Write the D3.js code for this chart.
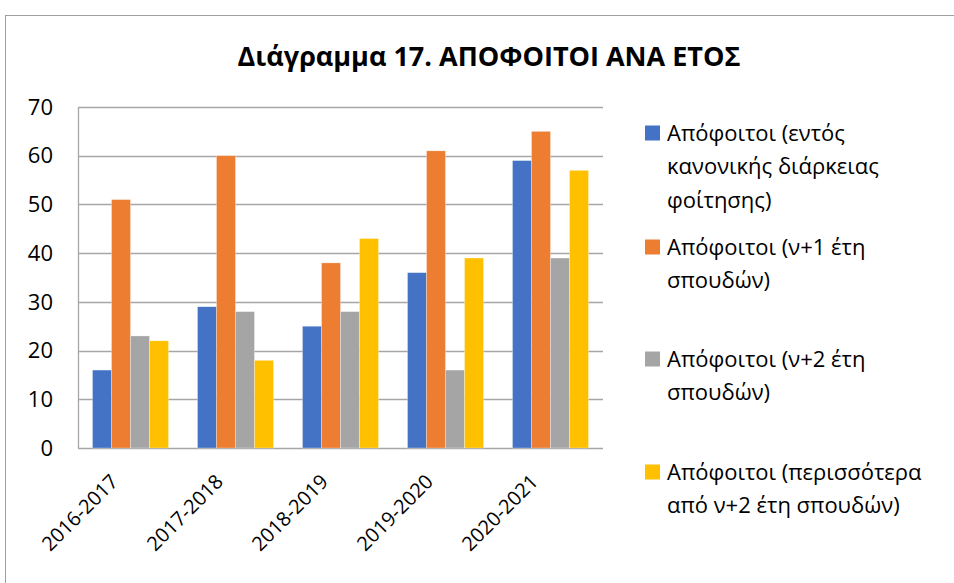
<!DOCTYPE html>
<html>
<head>
<meta charset="utf-8">
<script src="https://cdn.jsdelivr.net/npm/d3@7"></script>
<style>
  body { margin: 0; background: #fff; }
  svg text { font-family: "Open Sans", "Noto Sans", sans-serif; fill: #000; }
</style>
</head>
<body>
<div class="vis"></div>
<script>
(function() {
  'use strict';

  var years = ["2016-2017", "2017-2018", "2018-2019", "2019-2020", "2020-2021"];
  var seriesNames = [
    ["Απόφοιτοι (εντός", "κανονικής διάρκειας", "φοίτησης)"],
    ["Απόφοιτοι (ν+1 έτη", "σπουδών)"],
    ["Απόφοιτοι (ν+2 έτη", "σπουδών)"],
    ["Απόφοιτοι (περισσότερα", "από ν+2 έτη σπουδών)"]
  ];
  var inTime = [16, 29, 25, 36, 59];
  var plus1 = [51, 60, 38, 61, 65];
  var plus2 = [23, 28, 28, 16, 39];
  var more = [22, 18, 43, 39, 57];
  var yTicks = [0, 10, 20, 30, 40, 50, 60, 70];
  var colors = ["#4472C4", "#ED7D31", "#A5A5A5", "#FFC000"];

  var series = [inTime, plus1, plus2, more];

  var width = 954, height = 583;
  var margin = {top: 107, right: 351, bottom: 135, left: 78};

  var svg = d3.select('.vis').append('svg')
      .attr('width', width)
      .attr('height', height);

  // chart frame
  svg.append('rect')
    .attr('x', 5.5).attr('y', 15.5)
    .attr('width', 960).attr('height', 600)
    .attr('fill', 'none')
    .attr('stroke', '#a0a0a0')
    .attr('stroke-width', 1);

  svg.append('text')
    .attr('x', 489).attr('y', 66)
    .attr('text-anchor', 'middle')
    .style('font-size', '27px')
    .style('font-weight', 'bold')
    .text('Διάγραμμα 17. ΑΠΟΦΟΙΤΟΙ ΑΝΑ ΕΤΟΣ');

  var x0 = d3.scaleBand()
    .domain(years)
    .range([margin.left, width - margin.right])
    .paddingInner(0.276)
    .paddingOuter(0.138);

  var x1 = d3.scaleBand()
    .domain(d3.range(series.length))
    .range([0, x0.bandwidth()]);

  var y = d3.scaleLinear()
    .domain([0, 70])
    .range([height - margin.bottom, margin.top]);

  // gridlines
  svg.append('g')
    .selectAll('line')
    .data(yTicks)
    .enter()
    .append('line')
      .attr('x1', margin.left)
      .attr('x2', width - margin.right)
      .attr('y1', function(d) { return Math.round(y(d)) + 0.5; })
      .attr('y2', function(d) { return Math.round(y(d)) + 0.5; })
      .attr('stroke', '#a6a6a6')
      .attr('stroke-width', 1.3);

  svg.append('line')
    .attr('x1', margin.left + 0.5).attr('x2', margin.left + 0.5)
    .attr('y1', y(70)).attr('y2', y(0))
    .attr('stroke', '#a6a6a6')
    .attr('stroke-width', 1.3);

  // y labels
  svg.append('g')
    .selectAll('text')
    .data(yTicks)
    .enter()
    .append('text')
      .attr('x', 53)
      .attr('y', function(d) { return y(d); })
      .attr('dy', '0.35em')
      .attr('text-anchor', 'end')
      .style('font-size', '22px')
      .text(function(d) { return d; });

  // bars
  var groups = svg.append('g')
    .selectAll('g')
    .data(years)
    .enter()
    .append('g')
      .attr('transform', function(d) { return 'translate(' + x0(d) + ',0)'; });

  groups.selectAll('rect')
    .data(function(d, i) {
      return series.map(function(s, j) { return {k: j, v: s[i]}; });
    })
    .enter()
    .append('rect')
      .attr('x', function(d) { return x1(d.k); })
      .attr('width', x1.bandwidth())
      .attr('y', function(d) { return y(d.v); })
      .attr('height', function(d) { return y(0) - y(d.v); })
      .attr('fill', function(d) { return colors[d.k]; })
      .attr('stroke', '#fff')
      .attr('stroke-opacity', 0.5)
      .attr('stroke-width', 0.6);

  // x labels
  svg.append('g')
    .selectAll('text')
    .data(years)
    .enter()
    .append('text')
      .attr('transform', function(d) {
        return 'translate(' + (x0(d) + x0.bandwidth() / 2 - 16) + ',' + (y(0) + 30) + ') rotate(-45)';
      })
      .attr('text-anchor', 'end')
      .attr('dy', '0.35em')
      .style('font-size', '20px')
      .text(function(d) { return d; });

  // legend
  var legendTop = [133, 247, 359, 472];
  var legend = svg.append('g')
    .selectAll('g')
    .data(seriesNames)
    .enter()
    .append('g')
      .attr('transform', function(d, i) { return 'translate(645,' + legendTop[i] + ')'; });

  legend.append('rect')
    .attr('x', 0).attr('y', -7.5)
    .attr('width', 15).attr('height', 15)
    .attr('fill', function(d, i) { return colors[i]; });

  legend.append('text')
    .style('font-size', '22px')
    .selectAll('tspan')
    .data(function(d) { return d; })
    .enter()
    .append('tspan')
      .attr('x', 22)
      .attr('y', function(d, i) { return i * 33.5; })
      .attr('dy', '0.35em')
      .text(function(d) { return d; });
}());
</script>
</body>
</html>
